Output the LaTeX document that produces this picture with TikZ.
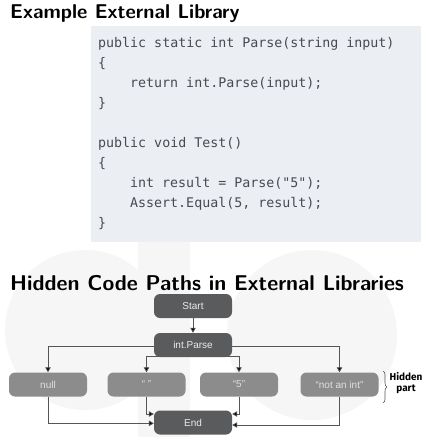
\documentclass[tikz,border=0pt]{standalone}
\usepackage{fontspec}
\newfontfamily\codefont{DejaVu Sans Mono}
\newfontfamily\nodefont{Liberation Sans}
\newfontfamily\hidfont{Fira Sans}
\usetikzlibrary{decorations.pathreplacing,arrows.meta}
\pgfdeclarelayer{bg}
\pgfdeclarelayer{fg}
\pgfsetlayers{bg,main,fg}
\definecolor{codebg}{HTML}{EBEEF3}
\definecolor{codetxt}{HTML}{474A50}
\definecolor{boxdark}{HTML}{5A5B5D}
\definecolor{boxlight}{HTML}{8C8C8C}
\definecolor{linegray}{HTML}{555555}
\definecolor{wm}{HTML}{F6F6F6}
\begin{document}
\begin{tikzpicture}[x=1pt,y=-1pt,
  title/.style={anchor=base west,inner sep=0,font=\sffamily\bfseries\fontsize{20}{22}\selectfont},
  code/.style={anchor=base west,inner sep=0,text=codetxt,font=\codefont\fontsize{13.3}{15}\selectfont},
  box/.style={rounded corners=6pt,minimum width=78pt,minimum height=24pt,inner sep=0,font=\nodefont\fontsize{10}{11}\selectfont},
  dark/.style={box,fill=boxdark,text=white!92!black},
  light/.style={box,fill=boxlight,text=white!88!black},
  conn/.style={draw=linegray,line width=0.8pt,-{Triangle[length=5pt,width=5.5pt,fill=black]}}]
\useasboundingbox (0,0) rectangle (425,437);
\begin{pgfonlayer}{bg}
\fill[white] (0,0) rectangle (425,437);
\fill[wm] (138,242) rectangle (190,437);
\fill[wm] (85,330) circle[radius=80];
\fill[wm] (312,335) circle[radius=85];
\end{pgfonlayer}
% titles
\node[title] (t1) at (10,18.5) {Example External Library};
\node[title,font=\sffamily\bfseries\fontsize{21.4}{23}\selectfont] (t2) at (10,290.5) {Hidden Code Paths in External Libraries};
% code box
\node[fill=codebg,minimum width=330pt,minimum height=216pt,inner sep=0,anchor=north west] (cb) at (91,26) {};
\node[code] (c1) at (98,47) {public static int Parse(string input)};
\node[code] (c2) at (98,67) {\{};
\node[code] (c3) at (130,87) {return int.Parse(input);};
\node[code] (c4) at (98,107) {\}};
\node[code] (c5) at (98,147) {public void Test()};
\node[code] (c6) at (98,167) {\{};
\node[code] (c7) at (130,187) {int result = Parse("5");};
\node[code] (c8) at (130,207) {Assert.Equal(5, result);};
\node[code] (c9) at (98,227) {\}};
% flowchart
\begin{pgfonlayer}{fg}
\node[dark] (start) at (193,306) {Start};
\node[dark] (ip) at (193,345) {int.Parse};
\node[light] (null) at (48,384.5) {null};
\node[light] (empty) at (146.5,384.5) {“ ”};
\node[light] (five) at (239,384.5) {“5”};
\node[light] (notint) at (339.5,384.5) {“not an int”};
\node[dark] (end) at (193,422.5) {End};
\end{pgfonlayer}
\draw[conn] (start) -- (ip);
\draw[conn] ([yshift=-1pt]ip.center) -| (null.north);
\draw[conn] ([yshift=-1pt]ip.center) -| (notint.north);
\draw[conn] ([yshift=-11pt]ip.center) -| (empty.north);
\draw[conn] ([yshift=-11pt]ip.center) -| (five.north);
\draw[conn] (null.south) |- ([yshift=-0.8pt]end.west);
\draw[conn] (notint.south) |- ([yshift=-2.5pt]end.east);
\draw[conn] (empty.south) |- ([yshift=8.5pt]end.west);
\draw[conn] (five.south) |- ([yshift=8.5pt]end.east);
\coordinate (b1) at (383,371);
\coordinate (b2) at (383,403);
\draw[linegray,line width=0.6pt,decorate,decoration={brace,amplitude=4pt}] (b1) -- (b2);
\node[align=center,inner sep=0,font=\hidfont\bfseries\fontsize{10}{11}\selectfont] (hid) at (406,383) {Hidden\\part};
\end{tikzpicture}
\end{document}
